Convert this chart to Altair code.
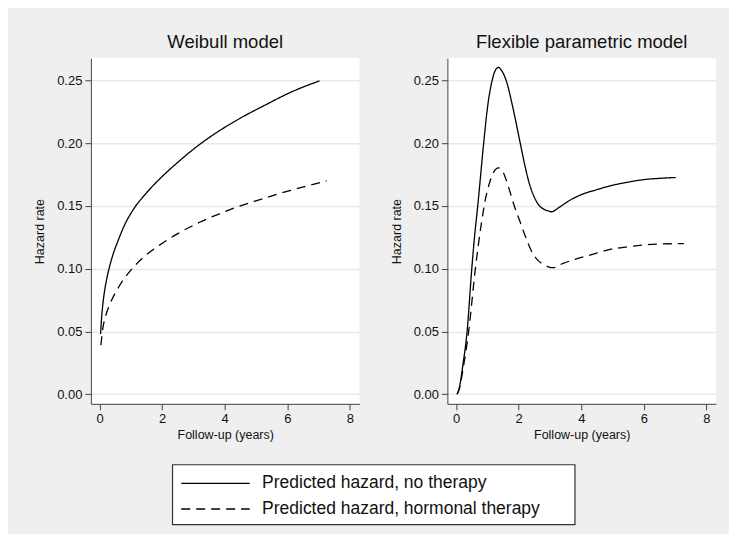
import altair as alt
import pandas as pd

# ---- data ----
series_names = ["Predicted hazard, no therapy", "Predicted hazard, hormonal therapy"]
panel_titles = ["Weibull model", "Flexible parametric model"]

weib_none_t = [0.03, 0.06, 0.1, 0.15, 0.22, 0.32, 0.45, 0.6, 0.8, 1.1, 1.5, 2.0, 2.5, 3.1, 3.8, 4.5, 5.3, 6.1, 7.03]
weib_none_h = [0.048, 0.060, 0.071, 0.081, 0.091, 0.102, 0.113, 0.123, 0.135, 0.148, 0.1605, 0.1735, 0.1848,
               0.1972, 0.2095, 0.220, 0.2305, 0.2405, 0.2497]

weib_horm_t = [0.04, 0.1, 0.2, 0.35, 0.6, 0.97, 1.4, 1.93, 2.5, 3.2, 4.27, 5.05, 6.11, 7.26]
weib_horm_h = [0.039, 0.052, 0.063, 0.073, 0.085, 0.098, 0.109, 0.119, 0.128, 0.137, 0.148, 0.1545, 0.1625, 0.170]

flex_none_t = [0.03, 0.1, 0.22, 0.35, 0.5, 0.59, 0.69, 0.88, 1.0, 1.15, 1.25, 1.35, 1.45, 1.6, 1.8, 2.05,
               2.2, 2.35, 2.5, 2.65, 2.8, 2.95, 3.05, 3.3, 3.6, 4.0, 4.5, 4.92, 5.5, 6.0, 6.5, 7.02]
flex_none_h = [0.0, 0.005, 0.024, 0.05, 0.10, 0.126, 0.15, 0.20, 0.228, 0.25, 0.258, 0.2605, 0.258, 0.25, 0.23, 0.20,
               0.182, 0.167, 0.157, 0.1505, 0.1475, 0.146, 0.1454, 0.149, 0.154, 0.159, 0.163, 0.166, 0.169, 0.171, 0.172, 0.1727]

flex_horm_t = [0.03, 0.1, 0.22, 0.4, 0.615, 0.8, 0.95, 1.05, 1.2, 1.35, 1.5, 1.65, 1.86, 2.05, 2.21, 2.4,
               2.6, 2.8, 2.95, 3.1, 3.4, 3.8, 4.3, 4.92, 5.5, 6.0, 6.6, 7.28]
flex_horm_h = [0.0, 0.004, 0.02, 0.05, 0.10, 0.135, 0.157, 0.167, 0.177, 0.1804, 0.177, 0.167, 0.15, 0.137, 0.126, 0.1145,
               0.107, 0.1033, 0.1015, 0.1008, 0.104, 0.1075, 0.111, 0.1154, 0.1175, 0.119, 0.1197, 0.120]

x_ticks = [0, 2, 4, 6, 8]
y_ticks = [0.0, 0.05, 0.10, 0.15, 0.20, 0.25]


def frame(t_a, h_a, t_b, h_b):
    rows = [{"t": t, "h": h, "series": series_names[0]} for t, h in zip(t_a, h_a)]
    rows += [{"t": t, "h": h, "series": series_names[1]} for t, h in zip(t_b, h_b)]
    return pd.DataFrame(rows)


df_weib = frame(weib_none_t, weib_none_h, weib_horm_t, weib_horm_h)
df_flex = frame(flex_none_t, flex_none_h, flex_horm_t, flex_horm_h)
df_legend = pd.DataFrame({"series": series_names})
df_box = pd.DataFrame({"box": [0]})

FONT = "Liberation Sans"
dash_scale = alt.Scale(domain=series_names, range=[[1, 0], [9, 6]])


def panel(df, title):
    return alt.Chart(df).mark_line(color="black", strokeWidth=1.3, interpolate="monotone").encode(
        x=alt.X("t:Q",
                scale=alt.Scale(domain=[-0.28, 8.31], nice=False, zero=False),
                axis=alt.Axis(values=x_ticks, title="Follow-up (years)", grid=False, format="d")),
        y=alt.Y("h:Q",
                scale=alt.Scale(domain=[-0.0077, 0.2677], nice=False, zero=False),
                axis=alt.Axis(values=y_ticks, title="Hazard rate", format=".2f", grid=True)),
        strokeDash=alt.StrokeDash("series:N", scale=dash_scale, legend=None),
        order="t:Q",
    ).properties(
        width=269, height=346,
        title=alt.TitleParams(title, fontSize=18.5, font=FONT, fontWeight="normal", color="#111", offset=7),
    )


# ---- legend box built from the series names ----
row_y = alt.Y("series:N", sort=series_names, axis=None,
              scale=alt.Scale(type="point", range=[18.7, 44.3], padding=0))
leg_frame = alt.Chart(df_box).mark_rect(fill="white", stroke="#333", strokeWidth=1.2).encode(
    x=alt.value(0), x2=alt.value(403), y=alt.value(0), y2=alt.value(60),
)
leg_base = alt.Chart(df_legend)
leg_lines = leg_base.mark_rule(color="black", strokeWidth=1.4).encode(
    x=alt.value(8.7), x2=alt.value(77.3), y=row_y,
    strokeDash=alt.StrokeDash("series:N", scale=dash_scale, legend=None),
)
leg_text = leg_base.mark_text(align="left", baseline="middle", font=FONT, fontSize=17.5, color="#111").encode(
    x=alt.value(89.7), y=row_y, text="series:N",
)
legend_box = alt.layer(leg_frame, leg_lines, leg_text).properties(
    width=462, height=60,
    view=alt.ViewBackground(fill="transparent", stroke="transparent"),
)

top = alt.hconcat(panel(df_weib, panel_titles[0]), panel(df_flex, panel_titles[1]), spacing=30)

chart = alt.vconcat(top, legend_box, spacing=21, center=True).properties(
    padding={"left": 25, "top": 24, "right": 13, "bottom": 7},
    background="#efefef",
).configure_view(
    fill="white", stroke=None,
).configure_axis(
    labelFont=FONT, titleFont=FONT, labelFontSize=13, titleFontSize=12.5,
    titleFontWeight="normal", labelColor="#111", titleColor="#111",
    domainColor="#444", tickColor="#444", tickSize=6, labelPadding=3,
    gridColor="#e8e8e8", gridWidth=1.5,
).configure_axisY(
    labelAngle=0, titlePadding=10,
).configure_axisX(
    titlePadding=3,
)

chart.save("out.html", embed_options={"renderer": "svg", "actions": False})
